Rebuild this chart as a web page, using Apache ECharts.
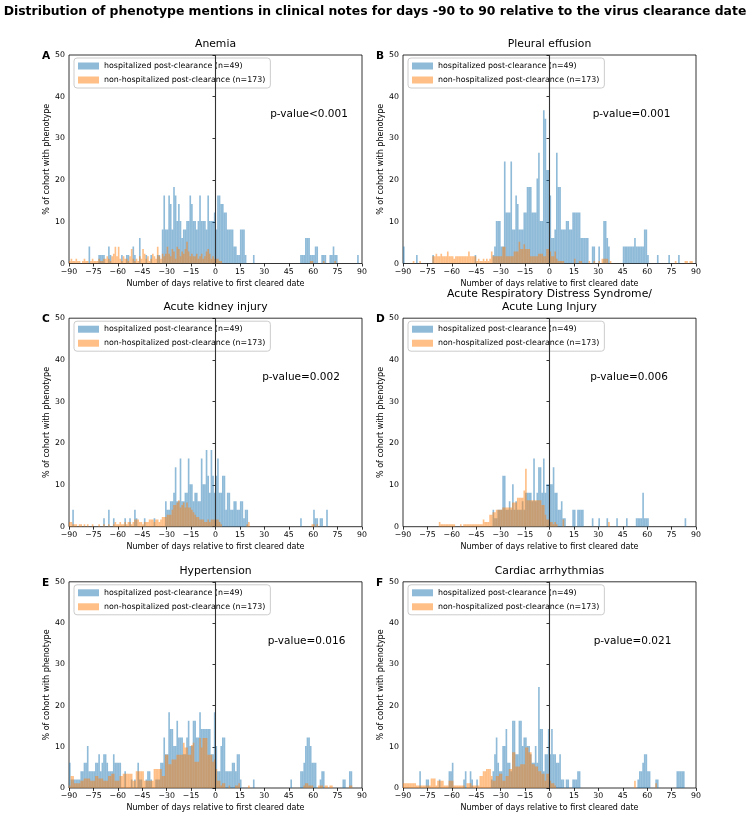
<!DOCTYPE html>
<html>
<head>
<meta charset="utf-8">
<script src="https://cdn.jsdelivr.net/npm/echarts@6/dist/echarts.min.js"></script>
<style>html,body{margin:0;padding:0;background:#fff}#c{width:750px;height:813px}</style>
</head>
<body>
<div id="c"></div>
<script>
// ---------------- DATA (counts of patients per day, day -90 .. 89) ----------------
const mainTitle = 'Distribution of phenotype mentions in clinical notes for days -90 to 90 relative to the virus clearance date';
const panelLetters = ['A', 'B', 'C', 'D', 'E', 'F'];
const panelTitles = ['Anemia', 'Pleural effusion', 'Acute kidney injury',
  'Acute Respiratory Distress Syndrome/\nAcute Lung Injury', 'Hypertension', 'Cardiac arrhythmias'];
const pValues = ['p-value<0.001', 'p-value=0.001', 'p-value=0.002', 'p-value=0.006', 'p-value=0.016', 'p-value=0.021'];
const hospName = 'hospitalized post-clearance (n=49)';
const nonHospName = 'non-hospitalized post-clearance (n=173)';
const hospN = 49;
const nonHospN = 173;
const firstDay = -90;
const xTicks = [-90, -75, -60, -45, -30, -15, 0, 15, 30, 45, 60, 75, 90];
const yTicks = [0, 10, 20, 30, 40, 50];
const clearanceDay = 0;

const hospA = [
0,0,0,0,0,0,0,0,0,0, 0,0,2,0,0,0,0,0,1,1, 1,1,0,0,2,1,0,0,0,0, 0,0,1,0,0,1,1,0,0,2,
1,0,0,3,0,0,0,1,0,0, 1,0,0,0,1,1,0,4,8,4, 4,8,7,4,9,8,5,7,5,3, 4,4,5,5,8,7,5,5,4,5,
8,5,5,5,4,8,5,5,5,6, 4,8,8,7,7,6,6,4,4,4, 4,2,2,1,1,4,4,4,1,0, 0,0,0,1,0,0,0,0,0,0,
0,0,0,0,0,0,0,0,0,0, 0,0,0,0,0,0,0,0,0,0, 0,0,1,1,1,3,3,3,1,1, 1,2,2,0,0,1,1,1,0,0,
1,1,2,1,1,0,0,0,0,0, 0,0,0,0,0,0,0,1,0,0];
const nonA = [
1,2,1,1,2,1,1,0,1,2, 1,1,0,1,2,1,1,1,2,1, 1,2,2,3,2,1,3,4,7,3, 7,2,1,3,2,2,1,3,6,2,
1,2,1,3,2,6,4,2,3,1, 2,4,3,2,7,3,2,4,3,4, 7,4,3,6,5,2,7,6,3,5, 4,6,9,5,3,4,3,3,4,2,
3,4,2,3,5,6,4,2,3,2, 2,2,1,1,0,0,0,0,0,0, 0,0,0,0,0,0,0,0,0,0, 0,0,0,0,0,0,0,0,0,0,
0,0,0,0,0,0,0,0,0,0, 0,0,0,0,0,0,0,0,0,0, 0,0,0,0,0,0,0,0,1,1, 0,0,0,0,0,0,1,0,0,0,
0,0,0,1,0,0,0,0,0,0, 0,0,0,0,0,0,0,0,0,0];

const hospB = [
2,0,0,0,0,0,0,0,1,0, 0,0,0,0,0,0,0,0,1,0, 0,0,0,0,0,0,0,0,0,0, 0,0,0,0,0,0,0,0,0,0,
0,0,0,0,1,0,0,0,0,0, 0,0,0,0,0,1,2,5,5,5, 2,2,12,6,6,6,12,4,4,8, 7,4,4,4,6,6,9,9,9,6,
6,6,10,13,5,5,18,17,11,11, 8,3,3,4,13,9,9,4,4,4, 5,5,4,4,6,6,6,6,6,3, 3,3,3,3,0,0,2,2,0,0,
2,0,0,5,5,3,2,0,0,0, 0,0,0,0,0,2,2,2,2,2, 2,2,3,2,2,2,2,2,4,4, 1,0,0,0,0,0,1,0,0,0,
0,0,0,1,0,0,0,0,0,1, 0,0,0,0,0,0,0,0,0,0];
const nonB = [
0,0,0,0,0,0,1,0,0,0, 1,0,0,0,0,0,0,0,3,3, 4,3,3,4,3,3,3,5,3,3, 3,2,3,3,3,3,3,3,3,3,
5,3,3,3,3,1,2,1,1,2, 1,2,1,2,5,3,3,3,3,3, 3,7,7,3,3,3,3,3,5,5, 5,9,6,6,8,6,6,6,3,3,
3,3,3,4,4,4,3,3,6,6, 5,3,3,5,2,1,1,1,1,0, 0,0,0,0,0,2,0,0,1,1, 0,0,0,0,1,0,0,1,0,0,
1,0,2,2,2,2,0,1,0,0, 0,0,0,0,0,0,0,0,0,0, 0,0,0,0,0,0,0,0,0,0, 0,0,0,0,0,0,0,0,0,0,
0,0,0,0,0,0,0,1,0,0, 0,0,0,1,1,0,1,1,0,0];

const hospC = [
0,0,2,0,0,0,0,0,0,0, 0,0,0,0,0,0,0,0,0,0, 0,1,0,0,2,0,0,1,0,0, 0,0,0,0,1,0,0,1,0,0,
2,1,0,0,0,0,1,0,0,0, 0,0,1,0,0,0,0,0,0,3, 2,2,3,3,4,7,3,3,8,3, 3,4,4,8,5,5,3,4,4,3,
3,8,5,5,9,6,4,9,6,4, 6,8,4,4,6,6,2,4,4,2, 2,3,3,2,2,3,3,1,2,2, 0,0,0,0,0,0,0,0,0,0,
0,0,0,0,0,0,0,0,0,0, 0,0,0,0,0,0,0,0,0,0, 0,0,1,0,0,0,0,0,0,0, 2,1,1,0,1,1,0,0,2,0,
0,0,0,0,0,0,0,0,0,0, 0,0,0,0,0,0,0,0,0,0];
const nonC = [
2,2,1,1,1,0,1,1,0,1, 0,1,0,0,1,0,0,0,1,0, 0,1,0,0,1,0,0,1,2,1, 1,2,1,1,2,1,2,2,1,2,
3,3,3,2,2,1,2,2,2,3, 3,3,2,3,3,2,3,4,4,4, 5,5,5,7,9,9,10,11,8,9, 10,8,10,8,8,7,6,5,4,4,
3,3,3,2,2,3,2,3,3,3, 3,3,2,1,0,0,0,0,0,0, 0,0,0,0,0,0,0,0,0,1, 2,0,0,0,0,0,0,0,0,0,
0,0,0,0,0,0,0,0,0,0, 0,0,0,0,0,0,0,0,0,0, 0,0,0,0,0,0,0,0,0,1, 1,0,1,0,0,0,0,0,0,0,
0,0,0,0,0,0,0,0,0,0, 0,0,0,0,0,0,0,0,0,0];

const hospD = [
0,0,0,0,0,0,0,0,0,0, 0,0,0,0,0,0,0,0,0,0, 0,0,0,0,0,0,0,0,0,0, 0,0,0,0,0,0,0,0,0,0,
0,0,0,0,0,0,0,0,0,0, 0,0,0,0,0,2,1,1,2,2, 2,6,6,2,2,3,2,5,2,3, 2,2,2,3,2,4,4,4,4,3,
8,3,4,7,7,4,8,4,5,5, 5,5,7,4,4,2,2,3,1,1, 0,0,0,0,2,2,0,2,2,2, 2,0,0,0,0,0,1,0,0,0,
1,0,0,0,0,1,0,0,0,0, 0,1,0,0,0,0,0,1,0,0, 0,0,0,1,1,1,1,4,1,1, 1,0,0,0,0,0,0,0,0,0,
0,0,0,0,0,0,0,0,0,0, 0,0,0,1,0,0,0,0,0,0];
const nonD = [
0,0,0,0,0,0,0,0,0,0, 0,0,0,0,0,0,0,0,0,0, 0,0,2,1,1,1,1,1,1,1, 1,1,0,0,0,1,0,1,1,1,
1,1,1,1,1,1,1,1,1,3, 2,2,2,5,5,6,6,7,7,7, 7,8,8,8,8,8,8,10,10,10, 12,12,12,12,15,24,11,11,11,11,
11,11,11,11,11,9,9,5,3,3, 2,2,1,2,1,0,0,0,3,0, 0,0,0,0,0,0,0,0,0,0, 0,0,0,0,0,0,0,0,0,0,
0,0,0,0,0,0,2,0,0,0, 0,0,0,0,0,0,0,0,0,0, 0,0,0,0,0,0,0,0,0,0, 0,0,0,0,0,0,0,0,0,0,
0,0,0,0,0,0,0,0,0,0, 0,0,0,0,0,0,0,0,0,0];

const hospE = [
3,1,1,1,1,1,1,2,2,3, 3,5,2,2,2,2,3,3,4,2, 3,4,4,3,2,2,2,4,3,3, 3,3,0,0,2,0,0,0,1,0,
1,0,3,1,1,0,0,1,2,2, 1,0,0,1,1,1,3,3,6,4, 4,9,7,7,5,5,8,6,6,6, 4,4,6,8,5,5,8,8,6,6,
9,7,7,7,7,7,7,4,4,9, 5,2,2,5,6,6,2,2,2,2, 3,3,2,4,4,1,0,0,0,0, 0,0,0,1,0,0,0,0,0,0,
0,0,0,0,0,0,0,0,0,0, 0,0,0,0,0,0,1,0,0,0, 0,0,2,2,3,5,6,6,5,3, 3,3,0,0,1,2,2,0,0,0,
0,0,0,0,0,0,0,0,1,1, 0,0,2,2,0,0,0,0,0,0];
const nonE = [
1,5,5,2,2,2,2,3,3,4, 4,4,4,3,3,3,5,5,4,4, 4,3,3,3,5,5,6,6,3,3, 3,5,5,6,6,6,6,6,6,3,
3,7,7,7,7,7,3,3,3,3, 3,3,8,8,8,8,8,5,5,14, 14,10,10,12,12,12,14,14,14,14, 19,17,17,14,14,18,19,11,11,11,
21,17,21,21,21,14,14,14,11,12, 8,3,3,1,2,2,0,0,1,0, 0,0,1,1,2,0,0,0,0,0, 1,0,0,0,0,0,0,0,0,0,
0,0,0,0,0,0,0,0,0,0, 0,0,0,0,0,0,0,0,0,0, 0,0,0,0,1,2,2,1,1,1, 0,0,0,1,1,1,0,1,1,0,
1,1,0,0,0,0,0,0,0,0, 0,0,1,1,0,0,0,0,0,0];

const hospF = [
0,0,0,0,0,0,0,0,0,0, 2,0,0,0,1,1,0,0,0,0, 0,0,1,0,0,0,0,0,2,2, 3,0,0,0,0,0,0,1,2,0,
0,2,1,0,0,1,0,0,0,0, 0,0,0,0,1,2,4,6,3,2, 2,5,5,7,3,3,2,8,8,4, 4,8,8,5,6,6,5,5,4,3,
3,5,3,12,7,7,2,4,4,7, 4,7,4,4,3,3,4,1,1,0, 1,1,0,0,1,1,1,2,2,0, 0,0,0,0,0,0,0,0,0,0,
0,0,0,0,0,0,0,0,0,0, 0,0,0,0,0,0,0,0,0,0, 0,0,0,0,1,2,2,3,4,4, 2,2,0,0,0,1,1,0,0,0,
0,0,0,0,0,0,0,0,2,2, 2,2,2,0,0,0,0,0,0,0];
const nonF = [
2,2,2,2,2,2,2,2,1,1, 1,1,1,1,1,1,1,4,4,4, 1,3,3,3,3,1,1,1,3,3, 3,1,1,1,1,1,1,1,0,2,
2,2,1,1,1,1,1,5,5,7, 7,8,8,8,5,3,3,5,5,6, 6,3,3,5,5,8,8,15,15,9, 9,9,10,10,10,17,17,15,15,10,
10,9,9,7,7,6,6,3,6,6, 3,2,2,1,0,0,0,0,0,0, 0,0,0,0,0,0,0,0,0,0, 0,0,0,0,0,0,0,0,0,0,
0,0,0,0,0,0,0,0,0,0, 0,0,0,0,0,0,0,0,0,0, 0,0,3,0,0,0,0,0,0,0, 0,0,0,0,0,2,0,0,0,0,
0,0,0,0,0,0,0,0,0,0, 0,0,0,0,0,0,0,0,0,0];

const hospSeries = [hospA, hospB, hospC, hospD, hospE, hospF];
const nonHospSeries = [nonA, nonB, nonC, nonD, nonE, nonF];

// ---------------- LAYOUT ----------------
const FONT = 'DejaVu Sans';
const TICK_FS = 7.8, NAME_FS = 8.0, LEG_FS = 7.9;
const gridW = 293, gridH = 208.5;
const gridLefts = [69, 403];
const gridTops = [55, 318.2, 581.8];
const pTextX = [309, 631.5, 301, 629, 306.5, 632.5];

function toPct(arr, n) {
  const out = [];
  arr.forEach((c, i) => { if (c > 0) out.push([firstDay + i, c / n * 100]); });
  return out;
}
function renderBin(params, api) {
  const d = api.value(0), v = api.value(1);
  const p0 = api.coord([d, 0]);
  const p1 = api.coord([d + 1, v]);
  return {
    type: 'rect',
    shape: { x: p0[0], y: p1[1], width: p1[0] - p0[0], height: p0[1] - p1[1] },
    style: { fill: api.visual('color') }
  };
}
const minusFmt = v => (v < 0 ? '\u2212' + (-v) : '' + v);

const grids = [], xAxes = [], yAxes = [], series = [], legends = [], graphics = [];
graphics.push({
  type: 'text', x: 375, y: 12,
  style: { text: mainTitle, font: 'bold 12.4px "' + FONT + '"', fill: '#000', align: 'center', verticalAlign: 'middle' }
});

for (let k = 0; k < 6; k++) {
  const left = gridLefts[k % 2], top = gridTops[Math.floor(k / 2)];
  grids.push({ left: left, top: top, width: gridW, height: gridH, show: true,
    borderColor: '#000', borderWidth: 0.8, backgroundColor: 'transparent', containLabel: false });
  xAxes.push({
    type: 'value', gridIndex: k, min: xTicks[0], max: xTicks[xTicks.length - 1], interval: 15,
    name: 'Number of days relative to first cleared date', nameLocation: 'middle', nameGap: 16,
    nameTextStyle: { fontFamily: FONT, fontSize: NAME_FS, color: '#000' },
    axisLine: { show: false }, splitLine: { show: false },
    axisTick: { show: true, length: 3, lineStyle: { color: '#000', width: 0.8 } },
    axisLabel: { fontFamily: FONT, fontSize: TICK_FS, color: '#000', margin: 4, formatter: minusFmt }
  });
  yAxes.push({
    type: 'value', gridIndex: k, min: yTicks[0], max: yTicks[yTicks.length - 1], interval: 10,
    name: '% of cohort with phenotype', nameLocation: 'middle', nameGap: 11, nameRotate: 90,
    nameTextStyle: { fontFamily: FONT, fontSize: NAME_FS, color: '#000' },
    axisLine: { show: false }, splitLine: { show: false },
    axisTick: { show: true, length: 3, lineStyle: { color: '#000', width: 0.8 } },
    axisLabel: { fontFamily: FONT, fontSize: TICK_FS, color: '#000', margin: 4 }
  });
  series.push({
    type: 'custom', name: hospName, xAxisIndex: k, yAxisIndex: k, clip: true,
    renderItem: renderBin, itemStyle: { color: 'rgba(31,119,180,0.5)' },
    encode: { x: 0, y: 1 }, data: toPct(hospSeries[k], hospN), z: 2
  });
  series.push({
    type: 'custom', name: nonHospName, xAxisIndex: k, yAxisIndex: k, clip: true,
    renderItem: renderBin, itemStyle: { color: 'rgba(255,127,14,0.5)' },
    encode: { x: 0, y: 1 }, data: toPct(nonHospSeries[k], nonHospN), z: 3
  });
  series.push({
    type: 'line', xAxisIndex: k, yAxisIndex: k, symbol: 'none', silent: true, z: 4,
    lineStyle: { color: '#333', width: 1.1 }, data: [[clearanceDay, yTicks[0]], [clearanceDay, yTicks[yTicks.length - 1]]]
  });
  legends.push({
    data: [hospName, nonHospName], orient: 'vertical', left: left + 5, top: top + 3,
    itemWidth: 21, itemHeight: 7, itemGap: 6, padding: [4, 5, 4, 4], icon: 'rect',
    backgroundColor: 'rgba(255,255,255,0.8)', borderColor: '#cccccc', borderWidth: 1, borderRadius: 3,
    textStyle: { fontFamily: FONT, fontSize: LEG_FS, color: '#000', padding: [0, 0, 0, 0] },
    selectedMode: false
  });
  graphics.push({
    type: 'text', x: left + gridW / 2, y: top - 4,
    style: { text: panelTitles[k], font: '10.8px "' + FONT + '"', fill: '#000',
      align: 'center', verticalAlign: 'bottom', lineHeight: 13.5 }
  });
  graphics.push({
    type: 'text', x: left - 27, y: top + 1,
    style: { text: panelLetters[k], font: 'bold 10.6px "' + FONT + '"', fill: '#000',
      align: 'left', verticalAlign: 'middle' }
  });
  graphics.push({
    type: 'text', x: pTextX[k], y: top + 59,
    style: { text: pValues[k], font: '10.5px "' + FONT + '"', fill: '#000',
      align: 'center', verticalAlign: 'middle' }
  });
}

const chart = echarts.init(document.getElementById('c'), null, { renderer: 'canvas' });
chart.setOption({
  animation: false,
  backgroundColor: '#fff',
  grid: grids, xAxis: xAxes, yAxis: yAxes, series: series, legend: legends, graphic: graphics
});
</script>
</body>
</html>
